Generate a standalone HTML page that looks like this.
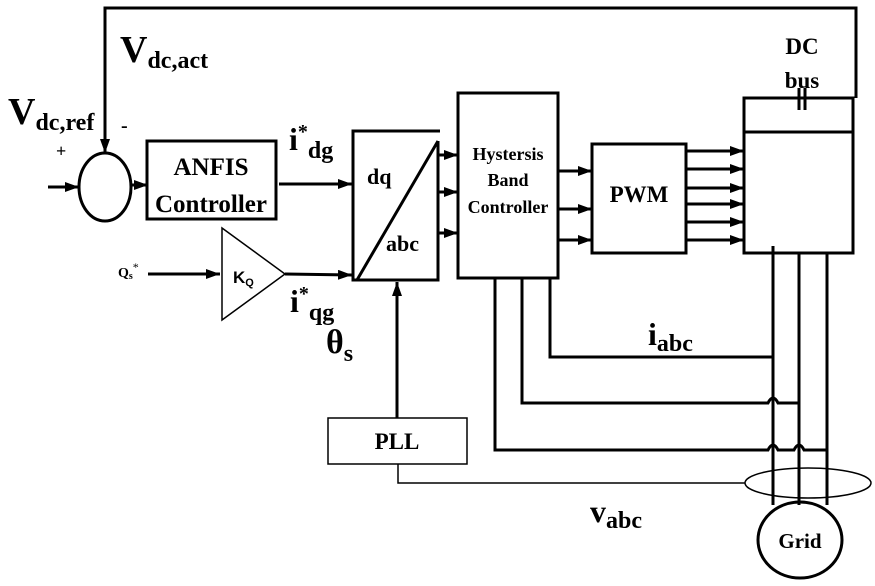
<!DOCTYPE html>
<html><head><meta charset="utf-8"><style>
html,body{margin:0;padding:0;background:#fff}
svg{display:block}
text{font-family:"Liberation Serif",serif;font-weight:bold;fill:#000}
</style></head><body>
<svg width="875" height="586" viewBox="0 0 875 586" xmlns="http://www.w3.org/2000/svg">
<defs>
<marker id="b" markerWidth="14" markerHeight="10" refX="14" refY="5" orient="auto" markerUnits="userSpaceOnUse"><path d="M0,0 L14,5 L0,10z" fill="#000"/></marker>
</defs>
<g stroke="#000" stroke-width="3" fill="none">
<polyline points="856,98 856,8 105,8 105,140"/>
<line x1="105" y1="138" x2="105" y2="153" marker-end="url(#b)"/>
<ellipse cx="105" cy="187" rx="26" ry="34"/>
<line x1="48" y1="187" x2="79" y2="187" marker-end="url(#b)"/>
<line x1="131" y1="185" x2="148" y2="185" marker-end="url(#b)"/>
<rect x="147" y="141" width="129" height="78"/>
<line x1="279" y1="184" x2="352" y2="184" marker-end="url(#b)"/>
<polyline points="440,131 353,131 353,280 438,280 438,141"/>
<line x1="357" y1="280" x2="438" y2="141"/>
<polygon points="222,228 222,320 285,274" stroke-width="1.5"/>
<line x1="148" y1="274" x2="220" y2="274" marker-end="url(#b)"/>
<line x1="285" y1="274" x2="352" y2="275" marker-end="url(#b)"/>
<line x1="397" y1="418" x2="397" y2="282" marker-end="url(#b)"/>
<line x1="438" y1="155" x2="458" y2="155" marker-end="url(#b)"/>
<line x1="438" y1="192" x2="458" y2="192" marker-end="url(#b)"/>
<line x1="438" y1="233" x2="458" y2="233" marker-end="url(#b)"/>
<rect x="458" y="93" width="100" height="185"/>
<line x1="558" y1="171" x2="592" y2="171" marker-end="url(#b)"/>
<line x1="558" y1="209" x2="592" y2="209" marker-end="url(#b)"/>
<line x1="558" y1="240" x2="592" y2="240" marker-end="url(#b)"/>
<rect x="592" y="144" width="94" height="109"/>
<line x1="686" y1="151" x2="744" y2="151" marker-end="url(#b)"/>
<line x1="686" y1="169" x2="744" y2="169" marker-end="url(#b)"/>
<line x1="686" y1="188" x2="744" y2="188" marker-end="url(#b)"/>
<line x1="686" y1="204" x2="744" y2="204" marker-end="url(#b)"/>
<line x1="686" y1="222" x2="744" y2="222" marker-end="url(#b)"/>
<line x1="686" y1="240" x2="744" y2="240" marker-end="url(#b)"/>
<rect x="744" y="98" width="109" height="155"/>
<line x1="744" y1="132" x2="853" y2="132"/>
<line x1="799" y1="88" x2="799" y2="110"/>
<line x1="805" y1="88" x2="805" y2="110"/>
<line x1="773" y1="246" x2="773" y2="505"/>
<line x1="799" y1="253" x2="799" y2="505"/>
<line x1="827" y1="253" x2="827" y2="505"/>
<polyline points="550,278 550,357 773,357"/>
<path d="M522,278 V403 H768 Q773,393 778,403 H799"/>
<path d="M495,278 V450 H768 Q773,440 778,450 H794 Q799,440 804,450 H827"/>
<ellipse cx="800" cy="540" rx="42" ry="38"/>
</g>
<g stroke="#000" stroke-width="1.5" fill="none">
<rect x="328" y="418" width="139" height="46"/>
<polyline points="398,464 398,483 745,483"/>
<ellipse cx="808" cy="483" rx="63" ry="15"/>
</g>
<text x="120" y="62" font-size="38">V<tspan font-size="24" dy="6">dc,act</tspan></text>
<text x="8" y="124" font-size="38">V<tspan font-size="24" dy="6">dc,ref</tspan></text>
<text x="56" y="157" font-size="18" font-weight="normal">+</text>
<text x="121" y="132" font-size="20">-</text>
<text x="211" y="175" font-size="25" text-anchor="middle">ANFIS</text>
<text x="211" y="212" font-size="25" text-anchor="middle">Controller</text>
<text x="289" y="150" font-size="32">i<tspan font-size="20" dy="-12">*</tspan><tspan font-size="24" dy="20">dg</tspan></text>
<text x="290" y="312" font-size="32">i<tspan font-size="20" dy="-12">*</tspan><tspan font-size="24" dy="20">qg</tspan></text>
<text x="326" y="353" font-size="34">θ<tspan font-size="24" dy="8">s</tspan></text>
<text x="367" y="184" font-size="22">dq</text>
<text x="386" y="251" font-size="22">abc</text>
<text x="118" y="277" font-size="14">Q<tspan font-size="10" dy="2">s</tspan><tspan font-size="12" dy="-8" font-weight="normal">*</tspan></text>
<text x="233" y="283" font-size="17" style="font-family:'Liberation Sans',sans-serif">K<tspan font-size="11" dy="3">Q</tspan></text>
<text x="508" y="160" font-size="18" text-anchor="middle">Hystersis</text>
<text x="508" y="186" font-size="18" text-anchor="middle">Band</text>
<text x="508" y="213" font-size="18" text-anchor="middle">Controller</text>
<text x="639" y="202" font-size="23" text-anchor="middle">PWM</text>
<text x="802" y="54" font-size="23" text-anchor="middle">DC</text>
<text x="802" y="88" font-size="23" text-anchor="middle">bus</text>
<text x="397" y="449" font-size="23" text-anchor="middle">PLL</text>
<text x="648" y="345" font-size="32">i<tspan font-size="24" dy="6">abc</tspan></text>
<text x="590" y="522" font-size="32">v<tspan font-size="24" dy="6">abc</tspan></text>
<text x="800" y="548" font-size="21" text-anchor="middle">Grid</text>
</svg>
</body></html>
